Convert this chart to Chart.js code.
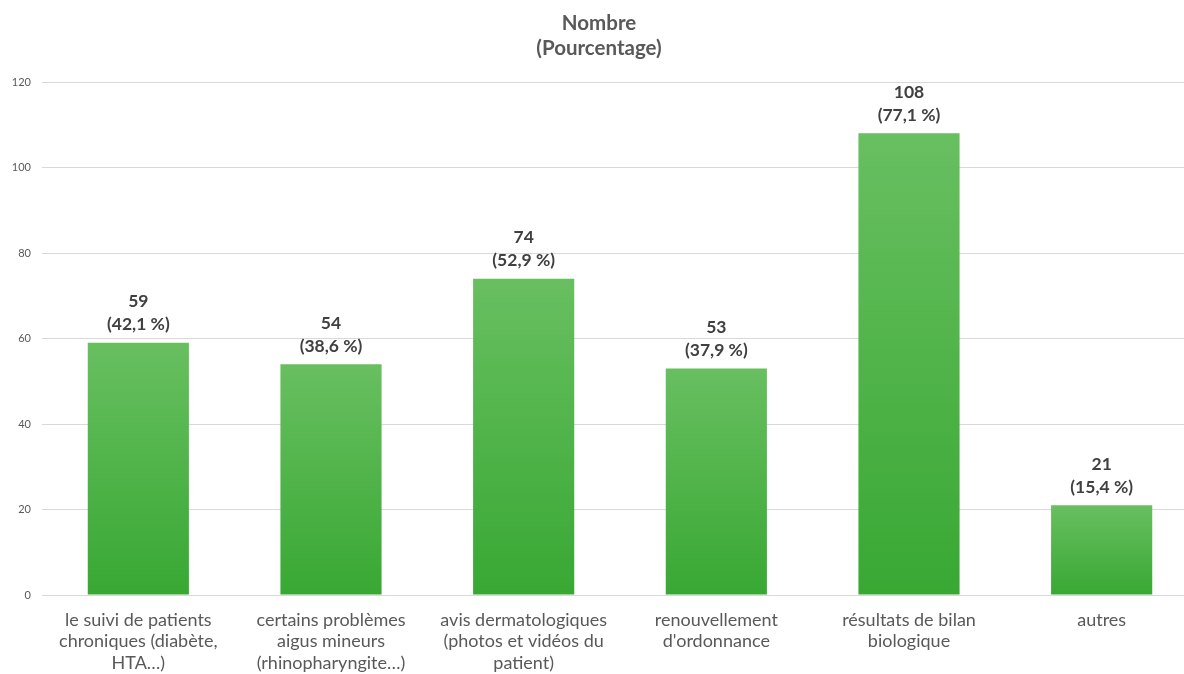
<!DOCTYPE html>
<html>
<head>
<meta charset="utf-8">
<script src="https://cdn.jsdelivr.net/npm/chart.js@4.4.1/dist/chart.umd.min.js"></script>
<style>
  html, body { margin: 0; padding: 0; background: #fff; overflow: hidden; }
  #wrap { width: 1212px; height: 690px; }
</style>
</head>
<body>
<div id="wrap"><canvas id="chart" width="1212" height="690"></canvas></div>
<script>
// Données du graphique
const categories = [
    ['le suivi de patients', 'chroniques (diabète,', 'HTA…)'],
    ['certains problèmes', 'aigus mineurs', '(rhinopharyngite…)'],
    ['avis dermatologiques', '(photos et vidéos du', 'patient)'],
    ['renouvellement', "d'ordonnance"],
    ['résultats de bilan', 'biologique'],
    ['autres']
];
const nombres = [59, 54, 74, 53, 108, 21];
const pourcentages = ['42,1 %', '38,6 %', '52,9 %', '37,9 %', '77,1 %', '15,4 %'];
const yTicks = [0, 20, 40, 60, 80, 100, 120];

const FONT = 'Lato, "Open Sans", sans-serif';

// Dégradé vertical pour chaque barre (plus clair en haut)
function barGradient(context) {
    const chart = context.chart;
    const area = chart.chartArea;
    if (!area) return '#4db447';
    const y = chart.scales.y;
    const top = y.getPixelForValue(context.raw);
    const bottom = y.getPixelForValue(0);
    const g = chart.ctx.createLinearGradient(0, top, 0, bottom);
    g.addColorStop(0, '#68bf60');
    g.addColorStop(1, '#38a833');
    return g;
}

// Étiquettes au-dessus des barres : nombre + pourcentage
const labelsPlugin = {
    id: 'barLabels',
    afterDatasetsDraw(chart) {
        const ctx = chart.ctx;
        const meta = chart.getDatasetMeta(0);
        ctx.save();
        ctx.fillStyle = '#404040';
        ctx.font = 'bold 17.5px ' + FONT;
        ctx.textAlign = 'center';
        ctx.textBaseline = 'middle';
        meta.data.forEach((bar, i) => {
            ctx.fillText(String(nombres[i]), bar.x, bar.y - 41);
            ctx.fillText('(' + pourcentages[i] + ')', bar.x, bar.y - 18);
        });
        ctx.restore();
    }
};

const ctx = document.getElementById('chart').getContext('2d');
const chart = new Chart(ctx, {
    type: 'bar',
    data: {
        labels: categories,
        datasets: [{
            data: nombres,
            backgroundColor: barGradient,
            borderWidth: 0,
            barPercentage: 0.525,
            categoryPercentage: 1
        }]
    },
    options: {
        responsive: false,
        animation: false,
        layout: { padding: { left: 0, right: 14, top: 0, bottom: 0 } },
        plugins: {
            legend: { display: false },
            tooltip: { enabled: false },
            title: {
                display: true,
                text: ['Nombre', '(Pourcentage)'],
                color: '#595959',
                font: { family: FONT, size: 20.5, weight: 'bold', lineHeight: '25px' },
                padding: { top: 11, bottom: 21 }
            }
        },
        scales: {
            x: {
                grid: { display: false, drawTicks: false },
                border: { display: false },
                ticks: {
                    color: '#595959',
                    font: { family: FONT, size: 18, lineHeight: '21.5px' },
                    padding: 14,
                    maxRotation: 0,
                    autoSkip: false
                },
                afterFit(scale) { scale.height = 95; }
            },
            y: {
                min: 0,
                max: 120,
                afterBuildTicks(scale) { scale.ticks = yTicks.map(v => ({ value: v })); },
                grid: { color: '#d9d9d9', lineWidth: 1, drawTicks: false },
                border: { display: false },
                ticks: {
                    color: '#595959',
                    font: { family: FONT, size: 11 },
                    padding: 11
                },
                afterFit(scale) { scale.width = 42; }
            }
        }
    },
    plugins: [labelsPlugin]
});
</script>
</body>
</html>
